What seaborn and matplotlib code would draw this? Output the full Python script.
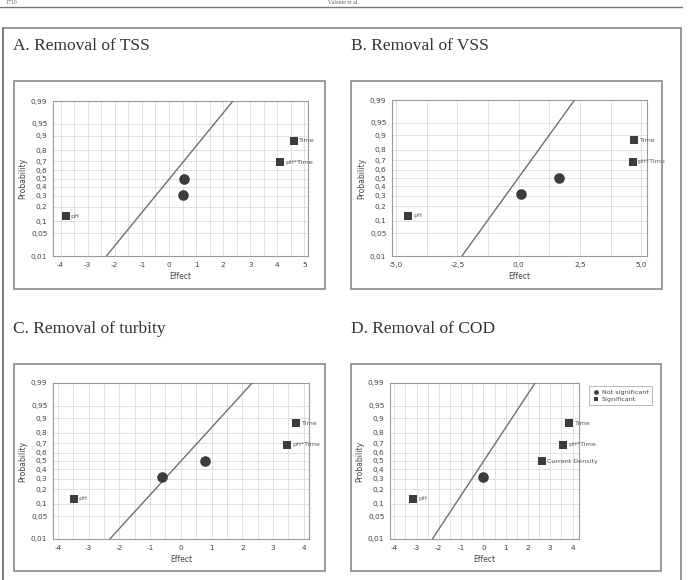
import math
import numpy as np
import pandas as pd
import matplotlib
matplotlib.use("Agg")
import matplotlib.pyplot as plt
from matplotlib.patches import Rectangle
from matplotlib.lines import Line2D
import seaborn as sns

# ---------------- data ----------------
probs = [0.13, 0.315, 0.5, 0.685, 0.87]

A_effect = [-3.8, 0.5, 0.55, 4.1, 4.6]
A_sig = ["Significant", "Not significant", "Not significant", "Significant", "Significant"]
A_labels = ["pH", "", "", "pH*Time", "Time"]
A_line = [-2.31, 2.36]

B_effect = [-4.5, 0.1, 1.65, 4.65, 4.7]
B_sig = ["Significant", "Not significant", "Not significant", "Significant", "Significant"]
B_labels = ["pH", "", "", "pH*Time", "Time"]
B_line = [-2.31, 2.28]

C_effect = [-3.48, -0.6, 0.8, 3.47, 3.75]
C_sig = ["Significant", "Not significant", "Not significant", "Significant", "Significant"]
C_labels = ["pH", "", "", "pH*Time", "Time"]
C_line = [-2.31, 2.32]

D_effect = [-3.14, 0.0, 2.65, 3.59, 3.84]
D_sig = ["Significant", "Not significant", "Significant", "Significant", "Significant"]
D_labels = ["pH", "", "Current Density", "pH*Time", "Time"]
D_line = [-2.29, 2.32]

line_probs = [0.01, 0.99]

titles = ["A. Removal of TSS", "B. Removal of VSS", "C. Removal of turbity", "D. Removal of COD"]
prob_ticks = [0.01, 0.05, 0.1, 0.2, 0.3, 0.4, 0.5, 0.6, 0.7, 0.8, 0.9, 0.95, 0.99]
prob_ticklabels = ["0,01", "0,05", "0,1", "0,2", "0,3", "0,4", "0,5", "0,6", "0,7", "0,8", "0,9", "0,95", "0,99"]
xt_A = [-4, -3, -2, -1, 0, 1, 2, 3, 4, 5]
xt_B = [-5.0, -2.5, 0.0, 2.5, 5.0]
xtl_B = ["-5,0", "-2,5", "0,0", "2,5", "5,0"]
xt_CD = [-4, -3, -2, -1, 0, 1, 2, 3, 4]

# ---------------- probit scale ----------------
_zg = np.linspace(-7, 7, 40001)
_pg = 0.5 * (1 + np.vectorize(math.erf)(_zg / math.sqrt(2)))

def ppf(p):
    p = np.clip(np.asarray(p, dtype=float), 1e-12, 1 - 1e-12)
    return np.interp(p, _pg, _zg)

def cdf(z):
    z = np.asarray(z, dtype=float)
    return np.interp(z, _zg, _pg)

# ---------------- style ----------------
sns.set_style("white")
plt.rcParams["font.family"] = ["DejaVu Sans"]

W, H = 689, 580
fig = plt.figure(figsize=(W / 100, H / 100), dpi=100)

def fx(px):
    return px / W

def fy(py):
    return 1 - py / H

# header and rule
fig.text(fx(6), fy(0.3), "1710", fontsize=4.2, family="Liberation Serif", color="#666", va="top")
fig.text(fx(344), fy(0.3), "Valente et al.", fontsize=4.2, family="Liberation Serif", color="#666",
         va="top", ha="center")
fig.add_artist(Line2D([0, fx(682)], [fy(6.5), fy(6.5)], color="#777", lw=1.0))

# outer frame
fig.add_artist(Line2D([fx(3), fx(681)], [fy(28), fy(28)], color="#888", lw=1.2))
fig.add_artist(Line2D([fx(3), fx(3)], [fy(28), 0], color="#666", lw=1.2))
fig.add_artist(Line2D([fx(681), fx(681)], [fy(28), 0], color="#888", lw=1.2))

panels = [
    dict(eff=A_effect, sig=A_sig, lab=A_labels, line=A_line, xlim=(-4.28, 5.13), xt=xt_A, xtl=None,
         ax=(53, 101, 308, 256), box=(14, 81, 325, 289), title=(13, 50), minor=0.5),
    dict(eff=B_effect, sig=B_sig, lab=B_labels, line=B_line, xlim=(-5.16, 5.23), xt=xt_B, xtl=xtl_B,
         ax=(392, 100, 647, 256), box=(351, 81, 662, 289), title=(351, 50), minor=1.25),
    dict(eff=C_effect, sig=C_sig, lab=C_labels, line=C_line, xlim=(-4.16, 4.17), xt=xt_CD, xtl=None,
         ax=(53, 383, 309, 539), box=(14, 364, 325, 571), title=(13, 333), minor=0.5),
    dict(eff=D_effect, sig=D_sig, lab=D_labels, line=D_line, xlim=(-4.19, 4.29), xt=xt_CD, xtl=None,
         ax=(390, 383, 579, 539), box=(351, 364, 661, 571), title=(351, 333), minor=0.5),
]

mcol = "#3c3c3c"
for i, pnl in enumerate(panels):
    x0, y0, x1, y1 = pnl["box"]
    fig.add_artist(Rectangle((fx(x0), fy(y1)), fx(x1 - x0), (y1 - y0) / H, fill=False,
                             edgecolor="#8a8a8a", lw=1.2))
    fig.text(fx(pnl["title"][0]), fy(pnl["title"][1]), titles[i], fontsize=12.5,
             family="Liberation Serif", color="#333", va="baseline")

    a0, b0, a1, b1 = pnl["ax"]
    ax = fig.add_axes([fx(a0), fy(b1), fx(a1 - a0), (b1 - b0) / H])
    ax.set_yscale("function", functions=(ppf, cdf))

    df = pd.DataFrame({"Effect": pnl["eff"], "Probability": probs, "Type": pnl["sig"], "Label": pnl["lab"]})
    ldf = pd.DataFrame({"Effect": pnl["line"], "Probability": line_probs})
    sns.lineplot(data=ldf, x="Effect", y="Probability", ax=ax, color="#6f6f6f", lw=1.0, zorder=3)
    nd = df[df["Type"] == "Not significant"]
    sd = df[df["Type"] == "Significant"]
    sns.scatterplot(data=nd, x="Effect", y="Probability", ax=ax, marker="o", s=58, color=mcol,
                    edgecolor=mcol, linewidth=0, zorder=4, label="Not significant")
    sns.scatterplot(data=sd, x="Effect", y="Probability", ax=ax, marker="s", s=38, color=mcol,
                    edgecolor=mcol, linewidth=0, zorder=4, label="Significant")
    for _, r in sd.iterrows():
        if r["Label"]:
            ax.annotate(r["Label"], (r["Effect"], r["Probability"]), xytext=(3.5, 0),
                        textcoords="offset points", fontsize=4.6, color="#555", va="center", ha="left")

    ax.set_xlim(*pnl["xlim"])
    ax.set_ylim(0.01, 0.99)
    ax.set_yticks(prob_ticks)
    ax.set_yticklabels(prob_ticklabels)
    ax.set_xticks(pnl["xt"])
    if pnl["xtl"]:
        ax.set_xticklabels(pnl["xtl"])
    else:
        ax.set_xticklabels([str(v) for v in pnl["xt"]])
    m = pnl["minor"]
    lo = math.ceil(pnl["xlim"][0] / m) * m
    ax.set_xticks(np.arange(lo, pnl["xlim"][1] + 1e-9, m), minor=True)
    ax.grid(True, which="both", axis="x", color="#dcdcdc", lw=0.6)
    ax.grid(True, which="major", axis="y", color="#dcdcdc", lw=0.6)
    ax.tick_params(axis="both", which="major", labelsize=5.3, labelcolor="#444", color="#888",
                   length=2.5, width=0.6, pad=1.5)
    ax.tick_params(axis="both", which="minor", length=0)
    ax.tick_params(axis="y", which="minor", left=False)
    ax.yaxis.set_minor_locator(matplotlib.ticker.NullLocator())
    for sp in ax.spines.values():
        sp.set_color("#9a9a9a")
        sp.set_linewidth(0.8)
    ax.set_xlabel("Effect", fontsize=5.5, color="#444", labelpad=3)
    ax.set_ylabel("Probability", fontsize=5.5, color="#444", labelpad=3)

    if i == 3:
        leg = ax.legend(loc="upper left", bbox_to_anchor=(1.035, 1.0), fontsize=4.6, frameon=True,
                        fancybox=False, edgecolor="#999", borderpad=0.5, handletextpad=0.3,
                        handlelength=1.2, markerscale=0.45, labelspacing=0.25)
        leg.get_frame().set_linewidth(0.6)
        for t in leg.get_texts():
            t.set_color("#444")
    else:
        ax.get_legend().remove()

fig.savefig("out.png", dpi=100)
